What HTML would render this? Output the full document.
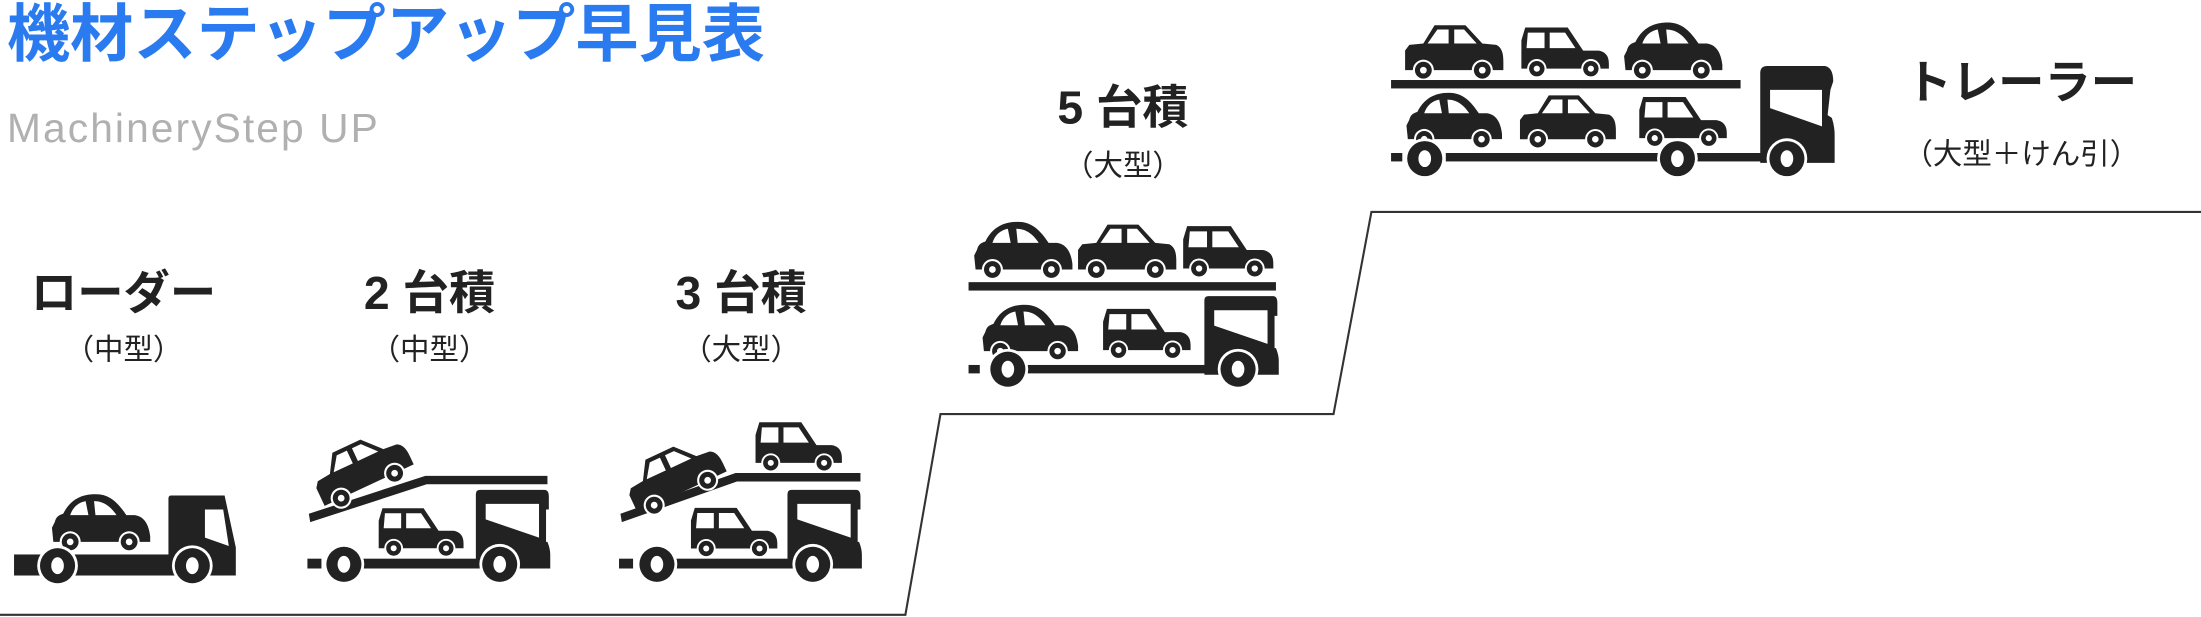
<!DOCTYPE html>
<html><head><meta charset="utf-8"><style>
html,body{margin:0;padding:0;background:#fff;}
svg{display:block;}
text{font-family:"Liberation Sans","Noto Sans CJK JP",sans-serif;}
</style></head><body>
<svg width="2201" height="617" viewBox="0 0 1568 439.55" xmlns="http://www.w3.org/2000/svg">
<defs>
<g id="wh"><circle r="7.5" fill="#fff"/><circle r="6" fill="#222"/><circle r="2.4" fill="#fff"/></g>
<symbol id="bub" viewBox="0 0 72 42">
<path d="M3,20 C4,16 6,15 9,14 C14,4 22,0 32,0 C42,0 48,6 54,15 L60,15 C67,16 70,22 71,30 L71,34 L2,34 L1,24 Z" fill="#222"/>
<path d="M14,15 C16,9 20,6 25,5 L27,15 Z M31,5 C38,5 43,9 47,15 L32,15 Z" fill="#fff"/>
<use href="#wh" x="14" y="34"/><use href="#wh" x="56" y="34"/>
</symbol>
<symbol id="sed" viewBox="0 0 72 42">
<path d="M1,20 L4,16 L14,15 L22,2 L44,2 L56,15 L66,16 C70,18 71,22 71,28 L71,34 L1,34 Z" fill="#222"/>
<path d="M17,15 L24,5 L32,5 L32,15 Z M36,5 L43,5 L52,15 L36,15 Z" fill="#fff"/>
<use href="#wh" x="14" y="34"/><use href="#wh" x="56" y="34"/>
</symbol>
<symbol id="van" viewBox="0 0 72 42">
<path d="M2,34 L2,12 L5,2 L38,2 L50,20 L62,20 C68,21 70,25 70,30 L70,34 Z" fill="#222"/>
<path d="M7,6 L20,6 L20,18 L6,18 Z M24,6 L36,6 L44,18 L24,18 Z" fill="#fff"/>
<use href="#wh" x="14" y="34"/><use href="#wh" x="56" y="34"/>
</symbol>
<g id="bw"><circle r="14.5" fill="#fff"/><circle r="12.5" fill="#222"/><ellipse rx="4.5" ry="6" fill="#fff"/></g>
<g id="cab"><path d="M0,3 Q0,0 3,0 L49,0 Q52,0 52,5 L52,14 L50,14 L50,37 L51,37 Q53,42 53,46 L53,56 L0,56 Z" fill="#222"/>
<path d="M7,10 L45,10 L45,34 L7,21 Z" fill="#fff"/></g>
</defs>

<text x="5" y="40" font-size="45" font-weight="bold" fill="#2a7bf0">機材ステップアップ早見表</text>
<text x="5" y="101" font-size="29" fill="#b0b0b0" letter-spacing="1.5">MachineryStep UP</text>

<polyline points="0,438 645,438 670,295 950,295 977,151 1568,151" fill="none" stroke="#333" stroke-width="1.5"/>

<g font-weight="bold" fill="#222" text-anchor="middle" font-size="33">
<text x="88" y="220">ローダー</text>
<text x="306" y="220">2 台積</text>
<text x="528" y="220">3 台積</text>
<text x="800" y="88">5 台積</text>
<text x="1440" y="70">トレーラー</text>
</g>
<g fill="#222" text-anchor="middle" font-size="21">
<text x="88" y="256">（中型）</text>
<text x="306" y="256">（中型）</text>
<text x="528" y="256">（大型）</text>
<text x="800" y="125">（大型）</text>
<text x="1440" y="117">（大型＋けん引）</text>
</g>

<!-- loader -->
<rect x="10" y="395" width="150" height="15" fill="#222"/>
<path d="M120,355 Q120,353 122,353 L160,353 L168,390 L168,410 L120,410 Z" fill="#222"/>
<path d="M146,363 L159,363 L163,389 L146,383 Z" fill="#fff"/>
<use href="#bub" x="36" y="352" width="72" height="42"/>
<use href="#bw" x="41" y="403"/><use href="#bw" x="137" y="403"/>

<!-- 2 car -->
<rect x="219" y="398" width="10" height="7" fill="#222"/>
<rect x="255" y="398" width="90" height="7" fill="#222"/>
<use href="#cab" x="339" y="349"/>
<polygon points="220,366 303,339 390,339 390,345 304,345 221,372" fill="#222"/>
<use href="#van" x="268" y="360" width="64" height="38"/>
<use href="#sed" transform="translate(216,330) rotate(-25)" width="72" height="42"/>
<use href="#bw" x="245" y="402"/><use href="#bw" x="356" y="402"/>

<!-- 3 car -->
<rect x="441" y="398" width="10" height="7" fill="#222"/>
<rect x="477" y="398" width="90" height="7" fill="#222"/>
<use href="#cab" x="561" y="349"/>
<polygon points="442,366 524,337 613,337 613,343 525,343 443,372" fill="#222"/>
<use href="#van" x="490" y="360" width="66" height="38"/>
<use href="#van" x="536" y="299" width="66" height="38"/>
<use href="#sed" transform="translate(439,335) rotate(-25)" width="72" height="42"/>
<use href="#bw" x="468" y="402"/><use href="#bw" x="579" y="402"/>

<!-- 5 car -->
<use href="#bub" x="693" y="158" width="72" height="42"/>
<use href="#sed" x="767" y="158" width="72" height="42"/>
<use href="#van" x="841" y="158" width="68" height="42"/>
<rect x="690" y="201" width="219" height="6" fill="#222"/>
<rect x="690" y="260" width="8" height="6" fill="#222"/>
<rect x="728" y="260" width="135" height="6" fill="#222"/>
<use href="#cab" x="858" y="211"/>
<use href="#bub" x="699" y="217" width="70" height="41"/>
<use href="#van" x="784" y="217" width="66" height="41"/>
<use href="#bw" x="718" y="263"/><use href="#bw" x="882" y="263"/>

<!-- trailer -->
<use href="#sed" x="1000" y="16" width="72" height="42"/>
<use href="#van" x="1082" y="16" width="66" height="42"/>
<use href="#bub" x="1156" y="16" width="72" height="42"/>
<rect x="991" y="57" width="249" height="6" fill="#222"/>
<path d="M1254,52 Q1254,47 1259,47 L1300,47 Q1306,48 1306,58 L1304,64 L1302,82 L1305,84 Q1307,90 1307,96 L1307,116 L1254,116 Z" fill="#222"/>
<path d="M1261,64 L1298,64 L1298,90 L1261,77 Z" fill="#fff"/>
<rect x="991" y="109" width="8" height="6" fill="#222"/>
<rect x="1030" y="109" width="230" height="6" fill="#222"/>
<use href="#bub" x="1001" y="66" width="70" height="41"/>
<use href="#sed" x="1081" y="66" width="72" height="41"/>
<use href="#van" x="1166" y="66" width="66" height="41"/>
<use href="#bw" x="1015" y="113"/><use href="#bw" x="1195" y="113"/><use href="#bw" x="1273" y="113"/>
</svg>
</body></html>
